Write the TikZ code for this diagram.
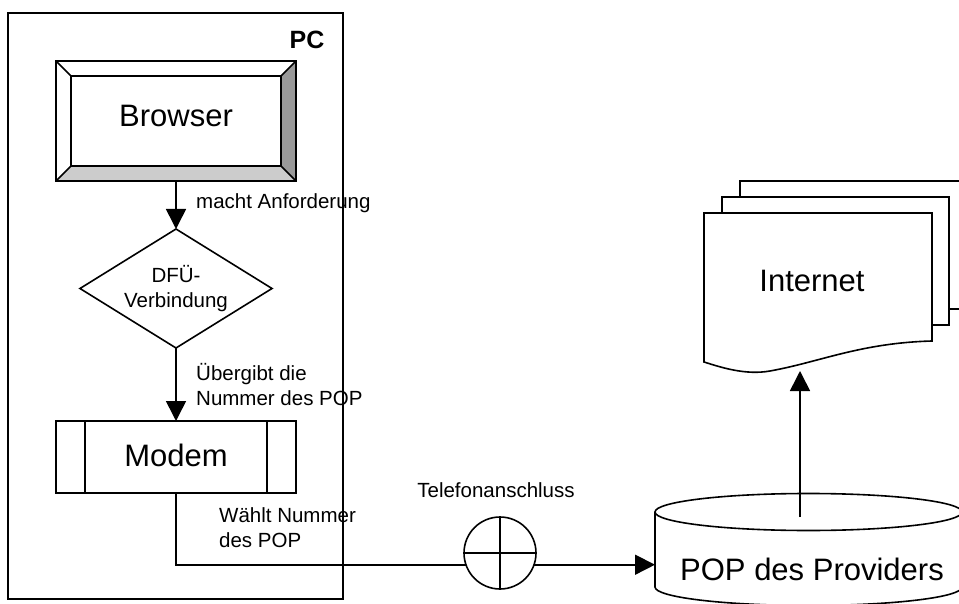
\documentclass[tikz,border=0pt]{standalone}
\usepackage{fontspec}
\setmainfont{Liberation Sans}
\usetikzlibrary{arrows.meta,calc}
\definecolor{bevelDark}{HTML}{999999}
\definecolor{bevelLight}{HTML}{CCCCCC}
\begin{document}
\begin{tikzpicture}[x=1pt,y=-1pt,
  line/.style={line width=1.6pt},
  conn/.style={line width=1.6pt,-{Triangle[length=20pt,width=20pt]}},
  big/.style={font=\fontsize{31}{36}\selectfont, inner sep=0},
  small/.style={font=\fontsize{20.5}{25}\selectfont, align=left, inner sep=0},
  anchorbox/.style={inner sep=0, outer sep=0}]
\useasboundingbox (0,0) rectangle (959,604);

% PC frame
\node[draw, line, anchorbox, minimum width=335pt, minimum height=586pt] (pc) at (175.5,306) {};
\node[font=\bfseries\fontsize{25}{29}\selectfont, inner sep=0] (pclabel) at (307,40) {PC};

% Browser (bevel)
\node[anchorbox, minimum width=240pt, minimum height=120pt] (browser) at (176,121) {};
\coordinate (bi1) at ($(browser.north west)+(15,15)$);
\coordinate (bi2) at ($(browser.north east)+(-15,15)$);
\coordinate (bi3) at ($(browser.south east)+(-15,-15)$);
\coordinate (bi4) at ($(browser.south west)+(15,-15)$);
\fill[bevelDark] (browser.north east) -- (browser.south east) -- (bi3) -- (bi2) -- cycle;
\fill[bevelLight] (browser.south west) -- (browser.south east) -- (bi3) -- (bi4) -- cycle;
\draw[line] (browser.north west) rectangle (browser.south east);
\draw[line] (bi1) rectangle (bi3);
\draw[line] (browser.north west) -- (bi1) (browser.north east) -- (bi2)
            (browser.south east) -- (bi3) (browser.south west) -- (bi4);
\node[big] (browsertext) at (176,116) {Browser};

% DFU diamond
\node[anchorbox, minimum width=192pt, minimum height=119pt] (dfu) at (176,288.5) {};
\draw[line] (dfu.north) -- (dfu.east) -- (dfu.south) -- (dfu.west) -- cycle;
\node[small, align=center] (dfutext) at (176,289) {DFÜ-\\Verbindung};

% Modem
\node[draw, line, anchorbox, minimum width=240pt, minimum height=72pt] (modem) at (176,457) {};
\draw[line] ($(modem.north west)+(29,0)$) -- ($(modem.south west)+(29,0)$);
\draw[line] ($(modem.north east)+(-29,0)$) -- ($(modem.south east)+(-29,0)$);
\node[big] (modemtext) at (176,455) {Modem};

% Telefonanschluss
\node[circle, draw, line, anchorbox, minimum size=72pt] (tel) at (500,553) {};
\draw[line] (tel.north) -- (tel.south) (tel.west) -- (tel.east);
\node[small] (teltext) at (496,490) {Telefonanschluss};

% POP cylinder
\node[anchorbox, minimum width=307pt, minimum height=113pt] (pop) at (808.5,549.5) {};
\draw[line] (655,512) -- (655,587)
  arc[start angle=180, end angle=360, x radius=153.5pt, y radius=18.5pt] -- (962,512);
\draw[line] (808.5,512) ellipse[x radius=153.5pt, y radius=18.5pt];
\node[big] (poptext) at (812,569) {POP des Providers};

% Internet pages
\draw[line, fill=white] (740,181) rectangle (970,309);
\draw[line, fill=white] (722,197) rectangle (949,325);
\draw[line, fill=white] (704,213) -- (932,213) -- (932,341)
  .. controls (860,343) and (820,362) .. (770,371)
  .. controls (745,375.5) and (720,367) .. (704,362) -- cycle;
\node[anchorbox, minimum width=228pt, minimum height=150pt] (inet) at (818,288) {};
\node[big] (inettext) at (812,281) {Internet};

% Connectors
\draw[conn] (browser.south) -- (dfu.north);
\draw[conn] (dfu.south) -- (modem.north);
\draw[line] (modem.south) |- (tel.199.47);
\draw[conn] (tel.-19.47) -- (tel.-19.47 -| pop.west);
\coordinate (popin) at (800,517);
\coordinate (inetin) at (800,371);
\draw[conn] (popin) -- (inetin);

% Labels
\node[small, anchor=west] (lab1) at (196,203) {macht Anforderung};
\node[small, anchor=west] (lab2) at (196,384.5) {Übergibt die\\Nummer des POP};
\node[small, anchor=west] (lab3) at (219,527.5) {Wählt Nummer\\des POP};
\end{tikzpicture}
\end{document}
